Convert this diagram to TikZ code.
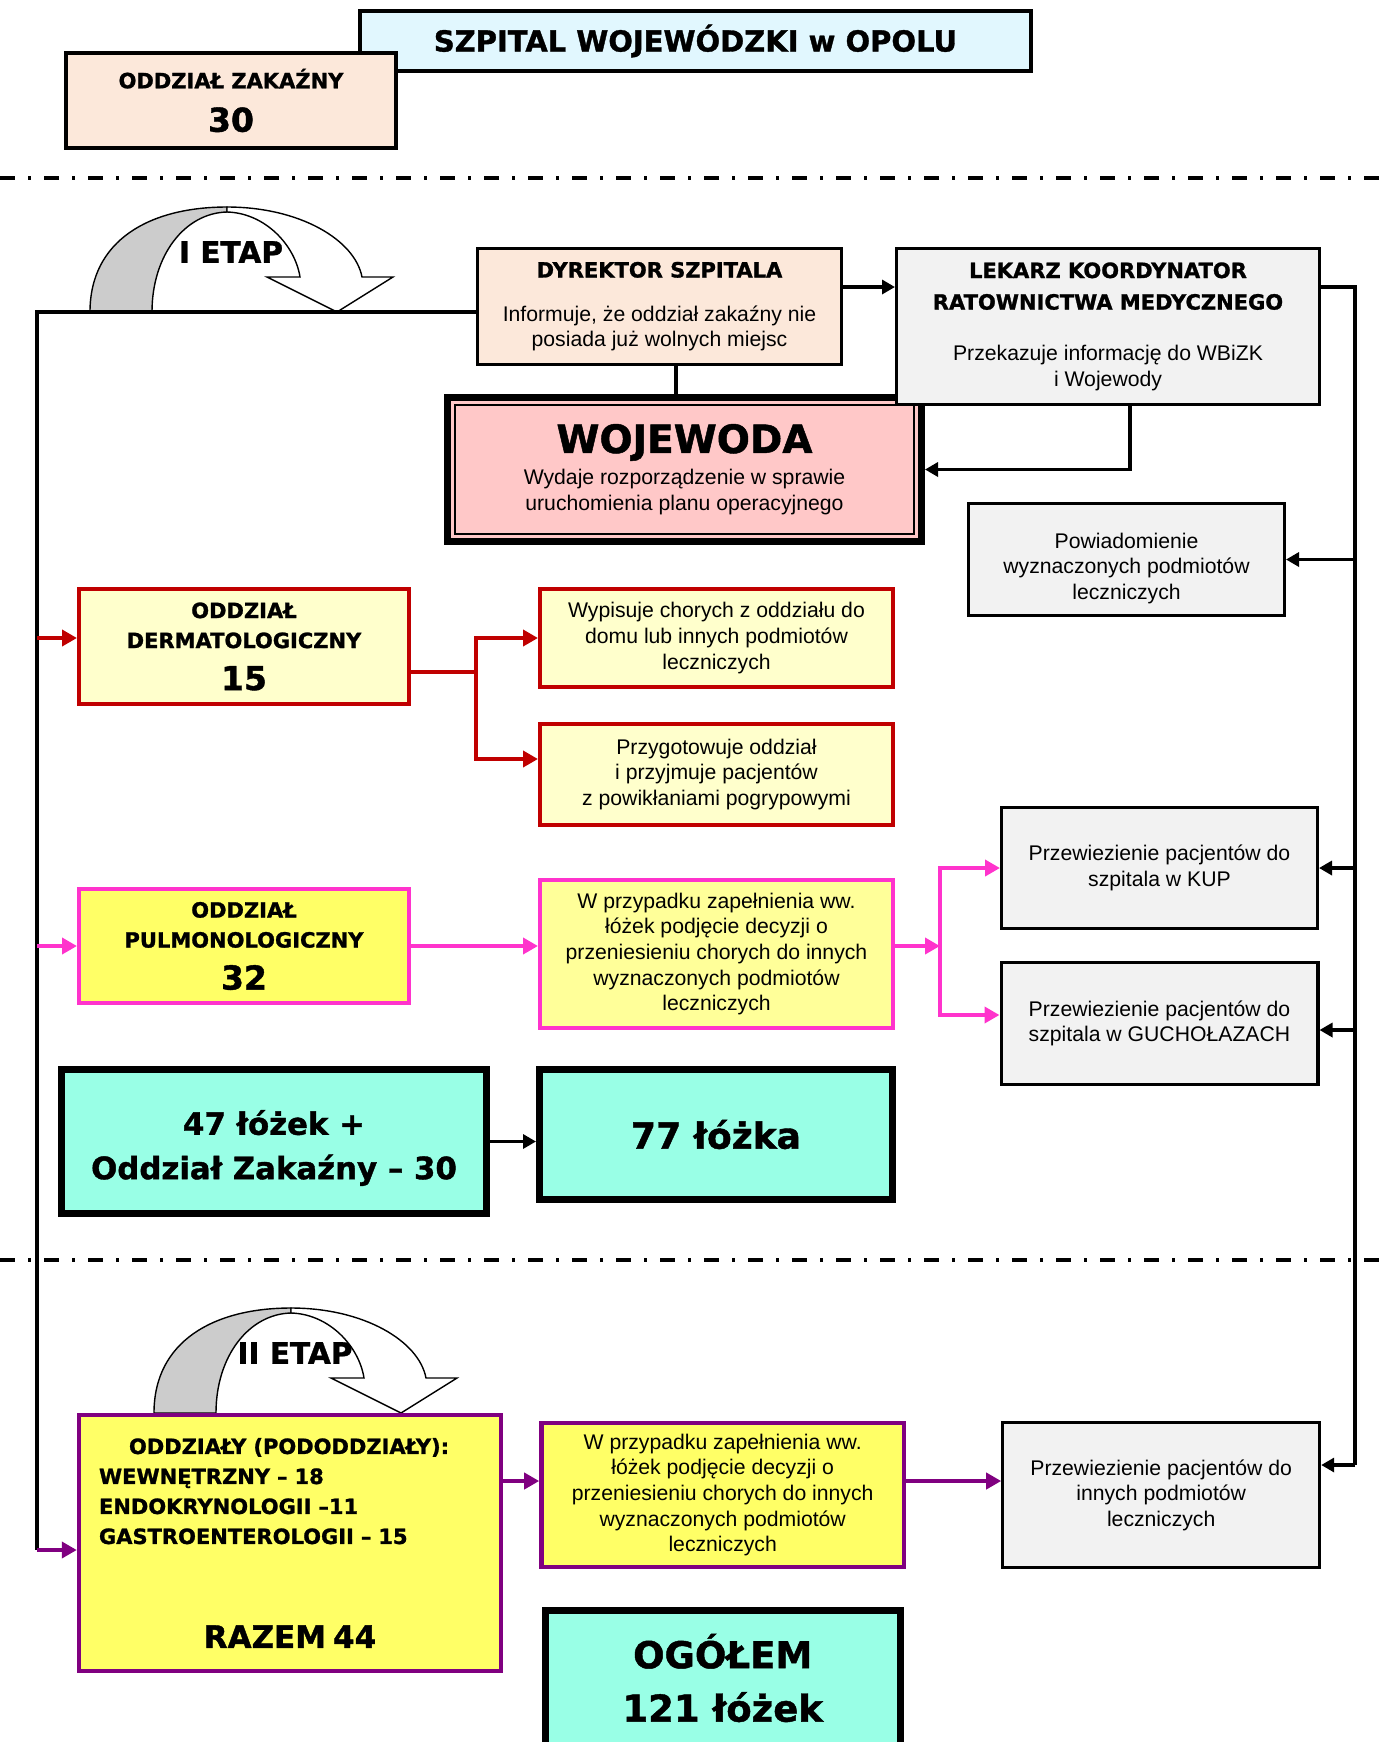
\documentclass[tikz,border=0pt]{standalone}
\usepackage{fontspec}
\setmainfont{Liberation Sans}
\newfontfamily\heavy{DejaVu Sans}[BoldFont={DejaVu Sans Bold},BoldFeatures={FakeBold=1.2}]
\newcommand{\hdfont}{\heavy\bfseries\fontsize{10.5}{15}\selectfont}
\usetikzlibrary{arrows.meta,positioning,calc}
\definecolor{hdrcyan}{RGB}{225,247,254}
\definecolor{peach}{RGB}{252,232,218}
\definecolor{lgrey}{RGB}{242,242,242}
\definecolor{wojpink}{RGB}{255,200,200}
\definecolor{paleyel}{RGB}{255,255,204}
\definecolor{midyel}{RGB}{255,255,153}
\definecolor{yel}{RGB}{255,255,102}
\definecolor{drkred}{RGB}{192,0,0}
\definecolor{magen}{RGB}{255,51,204}
\definecolor{purp}{RGB}{128,0,128}
\definecolor{aqua}{RGB}{153,255,230}
\definecolor{bandgrey}{RGB}{204,204,204}

\begin{document}
\begin{tikzpicture}[
  x=0.5pt, y=-0.5pt,
  font=\fontsize{10.6}{12.8}\selectfont,
  box/.style={draw,line width=1.6pt,align=center,inner sep=2pt},
  greybox/.style={box,fill=lgrey},
  peachbox/.style={box,fill=peach},
  redbox/.style={box,draw=drkred,line width=2.2pt,fill=paleyel,minimum width=176.3pt},
  deptbox/.style={box,line width=2.2pt,font=\hdfont,minimum width=164.8pt},
  pinkbox/.style={box,draw=magen,line width=2.2pt},
  purpbox/.style={box,draw=purp,line width=2.2pt,fill=yel},
  bedbox/.style={box,line width=3.5pt,fill=aqua},
  conn/.style={line width=1.8pt},
  arr/.style={conn,-{Triangle[length=6.5pt,width=7pt]}},
  carr/.style={line width=2pt,-{Triangle[length=7.5pt,width=8pt]}},
  sep/.style={line width=2.1pt,dash pattern=on 7.5pt off 6.5pt on 1.7pt off 6.3pt},
  band/.style={draw,line width=0.7pt},
  etap/.style={font=\heavy\bfseries\fontsize{14.8}{17}\selectfont}
]
\useasboundingbox (0,0) rectangle (1379,1742);

% separators
\draw[sep] (0,178) -- (1379,178);
\draw[sep] (0,1260) -- (1379,1260);

% stage arrows
\filldraw[band,fill=bandgrey] (90,312) .. controls (90,240) and (150,207) .. (227,207) -- (227,212) .. controls (185,213) and (152,255) .. (152,312) -- cycle;
\filldraw[band,fill=white] (227,207) .. controls (300,207) and (355,240) .. (362,277) -- (393,277) -- (337,312) -- (267,277) -- (300,277) .. controls (295,245) and (265,213) .. (227,212) -- cycle;
\node[etap] (etap1) at (231,252) {I ETAP};
\begin{scope}[shift={(64,1101)}]
\filldraw[band,fill=bandgrey] (90,312) .. controls (90,240) and (150,207) .. (227,207) -- (227,212) .. controls (185,213) and (152,255) .. (152,312) -- cycle;
\filldraw[band,fill=white] (227,207) .. controls (300,207) and (355,240) .. (362,277) -- (393,277) -- (337,312) -- (267,277) -- (300,277) .. controls (295,245) and (265,213) .. (227,212) -- cycle;
\node[etap] (etap2) at (231,252) {II ETAP};
\end{scope}

% header
\node[box,line width=2pt,fill=hdrcyan,minimum width=335.5pt,minimum height=30pt,
  font=\heavy\bfseries\fontsize{14.5}{17}\selectfont] (szpital) at (695.5,41) {SZPITAL WOJEWÓDZKI w OPOLU};
\node[peachbox,line width=2pt,font=\hdfont,minimum width=165pt,minimum height=47.5pt] (zakazny) at (231,100.5)
  {ODDZIAŁ ZAKAŹNY\\[6.75pt]{\fontsize{16.5}{20}\selectfont 30}};

% stage I
\node[peachbox,minimum width=181.9pt,minimum height=57.9pt] (dyrektor) at (659.5,306.5)
  {{\hdfont DYREKTOR SZPITALA}\\[9pt]Informuje, że oddział zakaźny nie\\posiada już wolnych miejsc};
\node[box,line width=3.5pt,fill=wojpink,minimum width=237pt,minimum height=72pt] (wojewoda) at (684.5,469.5)
  {{\heavy\bfseries\fontsize{19.5}{22}\selectfont WOJEWODA}\\[3.2pt]Wydaje rozporządzenie w sprawie\\uruchomienia planu operacyjnego};
\draw[line width=1pt] ($(wojewoda.north west)+(10.7,10.7)$) rectangle ($(wojewoda.south east)+(-10.7,-10.7)$);
\node[greybox,minimum width=211.4pt,minimum height=77.9pt,right=26pt of dyrektor.north east,anchor=north west] (lekarz)
  {{\hdfont LEKARZ KOORDYNATOR}\\[3pt]{\hdfont RATOWNICTWA MEDYCZNEGO}\\[12.7pt]Przekazuje informację do WBiZK\\i Wojewody};
\node[greybox,minimum width=157.9pt,minimum height=55.9pt,text height=42pt,below=48pt of lekarz,xshift=9.25pt] (powiad)
  {Powiadomienie\\wyznaczonych podmiotów\\leczniczych};

\node[deptbox,draw=drkred,fill=paleyel,minimum height=57.3pt] (derm) at (244,646.5)
  {ODDZIAŁ\\DERMATOLOGICZNY\\[6pt]{\fontsize{16.5}{20}\selectfont 15}};
\node[redbox,minimum height=48.8pt,right=63.5pt of derm.north east,anchor=north west] (wypisuje)
  {Wypisuje chorych z oddziału do\\domu lub innych podmiotów\\leczniczych};
\node[redbox,minimum height=50.3pt,below=16.5pt of wypisuje] (przygot)
  {Przygotowuje oddział\\i przyjmuje pacjentów\\z powikłaniami pogrypowymi};

\node[deptbox,draw=magen,fill=yel,minimum height=56.8pt,below=90.5pt of derm] (pulmo)
  {ODDZIAŁ\\PULMONOLOGICZNY\\[6pt]{\fontsize{16.5}{20}\selectfont 32}};
\node[pinkbox,fill=midyel,minimum width=176.3pt,minimum height=73.8pt,right=63.5pt of pulmo,yshift=-4pt] (wprzyp)
  {W przypadku zapełnienia ww.\\łóżek podjęcie decyzji o\\przeniesieniu chorych do innych\\wyznaczonych podmiotów\\leczniczych};
\node[greybox,minimum width=157.9pt,minimum height=60.4pt] (kup) at (1159.5,868)
  {Przewiezienie pacjentów do\\szpitala w KUP};
\node[greybox,minimum width=158.4pt,minimum height=60.9pt,below=15.5pt of kup] (guch)
  {Przewiezienie pacjentów do\\szpitala w GUCHOŁAZACH};

\node[bedbox,minimum width=212.5pt,minimum height=72pt,text height=41pt,font=\heavy\bfseries\fontsize{15.4}{22.2}\selectfont] (lozek47) at (274,1141.5)
  {47 łóżek +\\Oddział Zakaźny – 30};
\node[bedbox,minimum width=176.5pt,minimum height=65pt,font=\heavy\bfseries\fontsize{18}{22}\selectfont,
  right=23pt of lozek47.north east,anchor=north west] (lozka77) {77 łóżka};

% stage II
\node[purpbox,align=left,text width=191pt,inner xsep=10pt,minimum height=127.8pt,font=\hdfont] (oddzialy) at (290,1543)
  {\hspace*{15pt}ODDZIAŁY (PODODDZIAŁY):\\
   WEWNĘTRZNY – 18\\
   ENDOKRYNOLOGII –11\\
   GASTROENTEROLOGII – 15\\[37pt]
   \makebox[191pt][c]{\fontsize{15.5}{18}\selectfont RAZEM 44}};
\node[purpbox,minimum width=181.3pt,minimum height=71.8pt,right=18pt of oddzialy.north east,anchor=north west,yshift=-4pt] (wprzyp2)
  {W przypadku zapełnienia ww.\\łóżek podjęcie decyzji o\\przeniesieniu chorych do innych\\wyznaczonych podmiotów\\leczniczych};
\node[greybox,minimum width=158.4pt,minimum height=72.4pt,right=47.5pt of wprzyp2] (innych)
  {Przewiezienie pacjentów do\\innych podmiotów\\leczniczych};
\node[bedbox,minimum width=177.5pt,minimum height=67.5pt,font=\heavy\bfseries\fontsize{18.5}{26.7}\selectfont,
  below=19pt of wprzyp2] (ogolem) {OGÓŁEM\\121 łóżek};

% connectors
\coordinate (lg) at ($(dyrektor.west)+(-439,5.5)$);
\coordinate (ld) at ($(lg |- oddzialy.west)+(0,7)$);
\coordinate (pg) at ($(lekarz.east)+(34,-39.5)$);
\coordinate (pd) at ($(pg |- innych.east)+(0,-30)$);
\coordinate (rozg) at ($(derm.east)+(65,25.5)$);
\coordinate (wezel) at ($(wprzyp.east |- pulmo.east)+(45,0)$);

\draw[conn] (dyrektor.west |- lg) -- (lg) -- (ld);
\draw[conn] (lekarz.east |- pg) -- (pg) -- (pd);
\draw[arr] (dyrektor.east |- pg) -- (lekarz.west |- pg);
\draw[conn] ($(dyrektor.south)+(16.5,0)$) -- ($(wojewoda.north)+(-8.5,0)$);
\draw[arr] ($(lekarz.south)+(22,0)$) |- (wojewoda.east);
\draw[arr] (pg) |- (powiad.east);
\draw[arr] (pg) |- (kup.east);
\draw[arr] (pg) |- ($(guch.east)+(0,6.5)$);
\draw[arr] (pd) -- (pd -| innych.east);

\draw[carr,drkred] (lg |- wypisuje.west) -- (derm.west |- wypisuje.west);
\draw[line width=2pt,drkred] (derm.east |- rozg) -- (rozg);
\draw[carr,drkred] (rozg) |- (wypisuje.west);
\draw[carr,drkred] (rozg) |- ($(przygot.west)+(0,-15.5)$);

\draw[carr,magen] (lg |- pulmo.west) -- (pulmo.west);
\draw[carr,magen] (pulmo.east) -- (pulmo.east -| wprzyp.west);
\draw[carr,magen] (wprzyp.east |- pulmo.east) -- (wezel);
\draw[carr,magen] (wezel) |- (kup.west);
\draw[carr,magen] (wezel) |- ($(guch.west)+(0,-8.5)$);

\draw[arr] (lozek47.east) -- (lozek47.east -| lozka77.west);

\draw[carr,purp] (ld) -- (ld -| oddzialy.west);
\draw[carr,purp] ($(oddzialy.east |- wprzyp2.west)+(0,-14)$) -- ($(wprzyp2.west)+(0,-14)$);
\draw[carr,purp] ($(wprzyp2.east)+(0,-14)$) -- ($(innych.west)+(0,-14)$);
\end{tikzpicture}
\end{document}
